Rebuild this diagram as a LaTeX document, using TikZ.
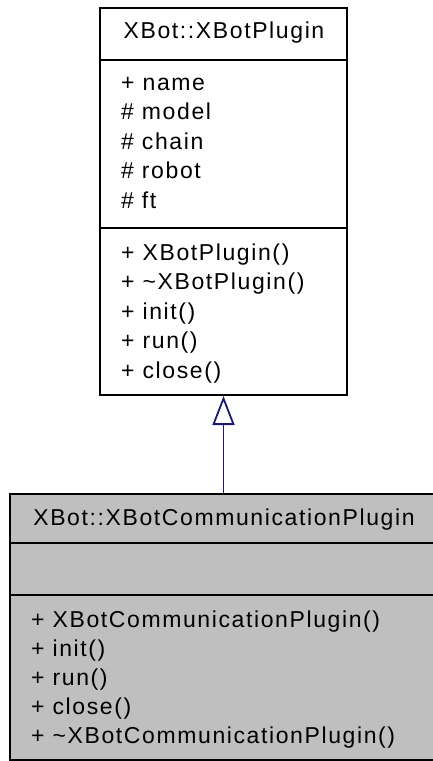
\documentclass[tikz,border=0pt]{standalone}
\usepackage{fontspec}
\newfontfamily\umlfont{Liberation Sans}[LetterSpace=7]
\usetikzlibrary{arrows.meta}
\definecolor{grey75}{HTML}{BFBFBF}
\definecolor{edgeblue}{HTML}{191970}
\tikzset{
  classbox/.style={draw=black, line width=2pt, rectangle, inner sep=0pt},
  sepline/.style={draw=black, line width=2pt},
  member/.style={anchor=base west, inner sep=0pt, font=\umlfont\fontsize{23}{27}\selectfont},
  ctitle/.style={anchor=base, inner sep=0pt, font=\umlfont\fontsize{23}{27}\selectfont},
  inherit/.style={draw=edgeblue, line width=1.8pt, -{Triangle[length=29pt,width=22pt,fill=white,line width=1.8pt]}}
}
\begin{document}
\begin{tikzpicture}[x=1pt,y=1pt]
\useasboundingbox (0,0) rectangle (432,-761);
% base class
\node[classbox, fill=white, minimum width=247pt, minimum height=387pt] (base) at (223.5,-201.5) {};
\draw[sepline] (base.north west |- 0,-60) -- (base.north east |- 0,-60);
\draw[sepline] (base.north west |- 0,-228) -- (base.north east |- 0,-228);
\node[ctitle] (bt) at (224,-38) {XBot::XBotPlugin};
\node[member] (ba1) at (121,-90) {+ name};
\node[member] (ba2) at (121,-119.5) {\# model};
\node[member] (ba3) at (121,-149) {\# chain};
\node[member] (ba4) at (121,-178.5) {\# robot};
\node[member] (ba5) at (121,-208) {\# ft};
\node[member] (bm1) at (121,-260) {+ XBotPlugin()};
\node[member] (bm2) at (121,-289.5) {+ \textasciitilde XBotPlugin()};
\node[member] (bm3) at (121,-319) {+ init()};
\node[member] (bm4) at (121,-348.5) {+ run()};
\node[member] (bm5) at (121,-378) {+ close()};
% derived class
\node[classbox, fill=grey75, minimum width=427pt, minimum height=266pt] (derived) at (223.5,-627) {};
\draw[sepline] (derived.north west |- 0,-543) -- (derived.north east |- 0,-543);
\draw[sepline] (derived.north west |- 0,-595) -- (derived.north east |- 0,-595);
\node[ctitle] (dt) at (224,-525) {XBot::XBotCommunicationPlugin};
\node[member] (dm1) at (31,-627) {+ XBotCommunicationPlugin()};
\node[member] (dm2) at (31,-656) {+ init()};
\node[member] (dm3) at (31,-685) {+ run()};
\node[member] (dm4) at (31,-714) {+ close()};
\node[member] (dm5) at (31,-743) {+ \textasciitilde XBotCommunicationPlugin()};
% inheritance
\draw[inherit] (derived.north -| 223.5,0) -- (base.south -| 223.5,0);
\end{tikzpicture}
\end{document}
